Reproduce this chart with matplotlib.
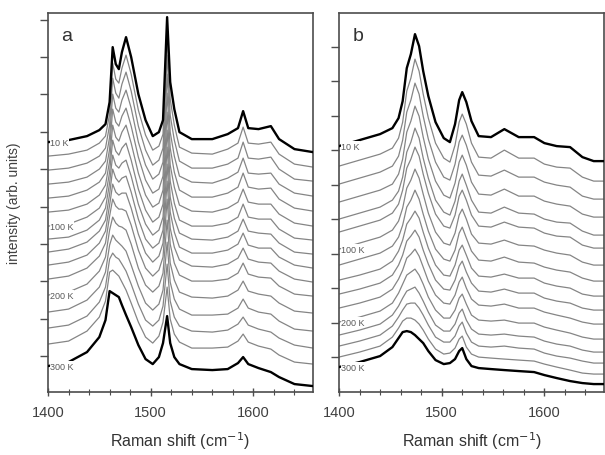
# CODE TO PLOT STACKED RAMAN SPECTRA (10 K - 300 K) FOR TWO SAMPLES

import matplotlib
matplotlib.use('Agg')
import matplotlib.pyplot as plt
from matplotlib.ticker import MultipleLocator
import numpy as np

# --- Configuration ---
output_filename_png = "out.png"
font_family = ['Liberation Sans', 'DejaVu Sans']
color_edge = 'black'     # 10 K and 300 K spectra
color_mid = '0.52'       # intermediate temperatures
axis_color = '0.3'

# --- Data: panel a (Raman shift, cm-1) and spectra, top (10 K) to bottom (300 K) ---
shift_a = [1400, 1420, 1438, 1450, 1456, 1460, 1463, 1466, 1469, 1472, 1476, 1481, 1488, 1495, 1502, 1508,
           1512, 1516, 1519, 1523, 1528, 1540, 1560, 1575, 1585, 1590, 1595, 1605, 1617, 1625, 1640, 1658]
a01 = [0, 2, 6, 12, 18, 40, 95, 78, 73, 90, 105, 85, 48, 22, 6, 10, 22, 125, 60, 33, 10, 3, 3, 8, 14, 31, 14, 13, 16, 3, -7, -10]
a02 = [0, 2, 6, 13, 20, 42, 93, 77, 73, 88, 101, 82, 46, 21, 6, 10, 22, 120, 57, 31, 9, 3, 2, 7, 13, 29, 13, 12, 14, 2, -8, -11]
a03 = [0, 2, 7, 14, 22, 45, 92, 77, 72, 86, 98, 79, 44, 20, 5, 10, 22, 115, 55, 30, 9, 2, 2, 6, 12, 28, 12, 11, 13, 1, -9, -11]
a04 = [0, 2, 7, 15, 23, 47, 90, 76, 72, 84, 94, 76, 42, 19, 5, 10, 22, 110, 52, 28, 8, 2, 1, 6, 12, 26, 11, 10, 11, 0, -9, -12]
a05 = [0, 2, 8, 16, 25, 49, 89, 76, 72, 82, 90, 72, 41, 18, 5, 9, 22, 105, 50, 26, 8, 1, 1, 5, 11, 25, 11, 9, 10, -1, -10, -13]
a06 = [0, 2, 8, 17, 27, 51, 87, 75, 71, 80, 87, 69, 39, 17, 5, 9, 22, 100, 47, 25, 7, 1, 0, 4, 10, 23, 10, 8, 8, -2, -11, -14]
a07 = [0, 2, 9, 18, 29, 54, 86, 75, 71, 78, 83, 66, 37, 16, 4, 9, 22, 96, 45, 23, 6, 0, 0, 3, 9, 22, 9, 7, 7, -3, -12, -14]
a08 = [0, 2, 9, 19, 31, 56, 84, 74, 71, 76, 79, 63, 35, 15, 4, 9, 22, 92, 42, 21, 6, 0, -1, 2, 8, 20, 8, 6, 5, -4, -13, -15]
a09 = [0, 3, 10, 21, 32, 58, 83, 74, 70, 74, 76, 60, 33, 13, 4, 9, 22, 88, 40, 20, 5, -1, -1, 2, 8, 19, 7, 4, 4, -5, -13, -16]
a10 = [0, 3, 10, 22, 34, 60, 81, 73, 70, 72, 72, 57, 31, 12, 3, 9, 22, 84, 37, 18, 5, -1, -2, 1, 7, 17, 6, 3, 2, -6, -14, -17]
a11 = [0, 3, 11, 23, 36, 63, 80, 73, 70, 70, 68, 54, 29, 11, 3, 9, 22, 80, 35, 16, 4, -2, -2, 0, 6, 16, 5, 2, 1, -7, -15, -17]
a12 = [0, 3, 11, 24, 38, 65, 78, 72, 69, 68, 65, 51, 27, 10, 3, 9, 22, 75, 32, 15, 3, -2, -3, -1, 5, 14, 4, 1, -1, -8, -16, -18]
a13 = [0, 3, 12, 25, 40, 67, 77, 72, 69, 66, 61, 47, 26, 9, 2, 8, 22, 70, 30, 13, 3, -3, -3, -2, 4, 13, 4, 0, -2, -9, -17, -19]
a14 = [0, 3, 12, 26, 41, 69, 75, 71, 69, 64, 57, 44, 24, 8, 2, 8, 22, 64, 27, 11, 2, -3, -4, -2, 4, 11, 3, -1, -4, -10, -17, -20]
a15 = [0, 3, 13, 27, 43, 72, 74, 71, 68, 62, 54, 41, 22, 7, 1, 8, 22, 57, 25, 10, 2, -4, -4, -3, 3, 10, 2, -2, -5, -11, -18, -20]
a16 = [-1, 3, 13, 28, 45, 74, 72, 70, 68, 60, 50, 38, 20, 6, 1, 8, 22, 49, 22, 8, 1, -4, -5, -4, 2, 8, 1, -3, -7, -12, -19, -21]
offsets_a = [250, 236, 222, 208, 194, 180, 166, 153, 140, 127, 113, 97, 80, 64, 48, 27]

# --- Data: panel b ---
shift_b = [1400, 1420, 1440, 1452, 1458, 1462, 1466, 1470, 1474, 1478, 1482, 1487, 1494, 1502, 1508, 1513,
           1517, 1520, 1524, 1529, 1536, 1548, 1561, 1575, 1590, 1600, 1612, 1625, 1637, 1648, 1658]
b01 = [0, 6, 12, 18, 28, 45, 78, 92, 112, 100, 75, 50, 24, 8, 4, 22, 46, 54, 44, 25, 10, 9, 17, 9, 9, 3, 0, -1, -11, -15, -15]
b02 = [0, 6, 12, 18, 28, 44, 75, 88, 107, 95, 72, 48, 23, 8, 4, 21, 44, 52, 42, 23, 9, 8, 16, 8, 8, 2, -1, -2, -11, -15, -15]
b03 = [0, 6, 12, 18, 28, 44, 72, 84, 101, 90, 68, 45, 22, 7, 4, 20, 42, 49, 39, 22, 9, 8, 14, 7, 7, 2, -1, -3, -12, -15, -15]
b04 = [0, 6, 12, 18, 28, 43, 70, 81, 96, 86, 65, 43, 21, 7, 4, 19, 40, 47, 37, 20, 8, 7, 13, 6, 6, 1, -2, -4, -12, -15, -15]
b05 = [0, 6, 12, 19, 28, 42, 67, 77, 91, 81, 61, 41, 19, 7, 4, 18, 38, 45, 34, 19, 7, 6, 12, 6, 5, 0, -3, -4, -12, -16, -16]
b06 = [0, 6, 12, 19, 28, 42, 64, 73, 85, 76, 58, 39, 18, 6, 4, 17, 36, 42, 32, 17, 6, 5, 10, 5, 4, -1, -4, -5, -13, -16, -16]
b07 = [0, 6, 12, 19, 28, 41, 61, 69, 80, 71, 55, 36, 17, 6, 4, 16, 34, 40, 30, 15, 6, 5, 9, 4, 3, -1, -4, -6, -13, -16, -16]
b08 = [0, 6, 12, 19, 28, 40, 58, 65, 75, 66, 51, 34, 16, 6, 4, 15, 32, 38, 27, 14, 5, 4, 8, 3, 2, -2, -5, -7, -13, -16, -16]
b09 = [0, 5, 11, 19, 29, 40, 56, 62, 69, 62, 48, 32, 15, 5, 4, 15, 30, 35, 25, 12, 4, 3, 6, 2, 2, -3, -6, -8, -14, -16, -16]
b10 = [0, 5, 11, 19, 29, 39, 53, 58, 64, 57, 44, 30, 14, 5, 4, 14, 28, 33, 22, 11, 3, 2, 5, 1, 1, -4, -7, -9, -14, -16, -16]
b11 = [0, 5, 11, 19, 29, 38, 50, 54, 59, 52, 41, 27, 13, 5, 4, 13, 26, 31, 20, 9, 3, 2, 4, 0, 0, -4, -7, -10, -14, -16, -16]
b12 = [0, 5, 11, 19, 29, 38, 47, 50, 53, 47, 38, 25, 12, 4, 4, 12, 24, 28, 18, 7, 2, 1, 2, -1, -1, -5, -8, -11, -15, -17, -17]
b13 = [0, 5, 11, 20, 29, 37, 44, 46, 48, 42, 34, 23, 10, 4, 4, 11, 22, 26, 15, 6, 1, 0, 1, -1, -2, -6, -9, -11, -15, -17, -17]
b14 = [0, 5, 11, 20, 29, 36, 42, 43, 43, 38, 31, 21, 9, 4, 4, 10, 20, 24, 13, 4, 0, -1, 0, -2, -3, -7, -10, -12, -15, -17, -17]
b15 = [0, 5, 11, 20, 29, 36, 39, 39, 37, 33, 27, 18, 8, 3, 4, 9, 18, 21, 10, 3, 0, -1, -2, -3, -4, -7, -10, -13, -16, -17, -17]
b16 = [0, 5, 11, 20, 29, 35, 36, 35, 32, 28, 24, 16, 7, 3, 4, 8, 16, 19, 8, 1, -1, -2, -3, -4, -5, -8, -11, -14, -16, -17, -17]
offsets_b = [246, 226, 208, 190, 173, 160, 143, 127, 112, 98, 84, 70, 57, 46, 35, 25]

# Temperature labels (index of spectrum -> text)
temp_labels = {0: '10 K', 6: '100 K', 11: '200 K', 15: '300 K'}

spectra_a = [a01, a02, a03, a04, a05, a06, a07, a08, a09, a10, a11, a12, a13, a14, a15, a16]
spectra_b = [b01, b02, b03, b04, b05, b06, b07, b08, b09, b10, b11, b12, b13, b14, b15, b16]


# --- Helper to draw one panel ---
def draw_panel(ax, shift, spectra, offsets, letter, ytick_start, ytick_step):
    n = len(spectra)
    # intermediate temperatures first, so the thick ones sit on top
    for i in range(1, n - 1):
        ax.plot(shift, np.array(spectra[i]) + offsets[i], color=color_mid, lw=0.9, zorder=2)
    for i in (0, n - 1):
        ax.plot(shift, np.array(spectra[i]) + offsets[i], color=color_edge, lw=1.7, zorder=3)

    for i, txt in temp_labels.items():
        ax.text(1402, offsets[i] + spectra[i][0], txt, fontsize=6.5, color='0.35',
                va='center', ha='left', family=font_family, zorder=4,
                bbox=dict(facecolor='white', edgecolor='none', pad=0.3))

    ax.text(0.05, 0.94, letter, transform=ax.transAxes, fontsize=14, color='0.2',
            va='center', ha='left', family=font_family)

    ax.set_xlim(1400, 1658)
    ax.set_ylim(0, 379)
    ax.xaxis.set_major_locator(MultipleLocator(100))
    ax.xaxis.set_minor_locator(MultipleLocator(20))
    ax.set_yticks(np.arange(ytick_start, 379, ytick_step))
    ax.set_yticklabels([])
    ax.tick_params(axis='x', which='major', direction='inout', length=6, width=1,
                   color=axis_color, labelsize=10.5, labelcolor='0.25', pad=6)
    ax.tick_params(axis='x', which='minor', direction='inout', length=4, width=0.8, color=axis_color)
    ax.tick_params(axis='y', which='major', direction='out', length=6, width=1, color=axis_color)
    for lab in ax.get_xticklabels():
        lab.set_family(font_family)
    for sp in ax.spines.values():
        sp.set_color(axis_color)
        sp.set_linewidth(1.2)
    ax.set_xlabel('Raman shift (cm$^{-1}$)', fontsize=11.5, color='0.2', family=font_family, labelpad=8)


# --- Create Plot ---
fig = plt.figure(figsize=(6.05, 4.56), dpi=100)
ax_a = fig.add_axes([0.0793, 0.138, 0.438, 0.831])
ax_b = fig.add_axes([0.5603, 0.138, 0.438, 0.831])

draw_panel(ax_a, shift_a, spectra_a, offsets_a, 'a', 36, 37.4)
draw_panel(ax_b, shift_b, spectra_b, offsets_b, 'b', 35, 34.5)

ax_a.set_ylabel('intensity (arb. units)', fontsize=10, color='0.25', family=font_family, labelpad=10)

# --- Save Plot ---
plt.savefig(output_filename_png, dpi=100)
print(f"Saved {output_filename_png}")
